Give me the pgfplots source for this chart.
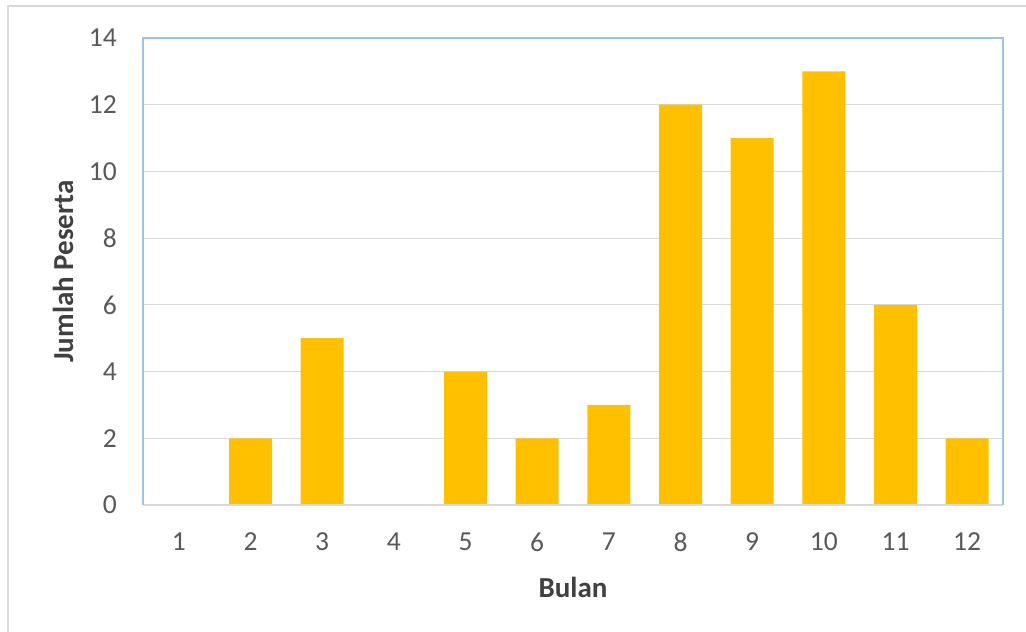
\documentclass[border=0pt]{standalone}
\usepackage{pgfplots}
\pgfplotsset{compat=1.18}
\usepackage{fontspec}
\setmainfont{Carlito}
\definecolor{barcol}{HTML}{FFC000}
\definecolor{gridcol}{HTML}{D9D9D9}
\definecolor{framecol}{HTML}{9DC3E6}
\definecolor{tickcol}{HTML}{595959}
\definecolor{labcol}{HTML}{404040}
\begin{document}
\begin{tikzpicture}
\path[use as bounding box] (0,0) rectangle (1026bp,632bp);
\draw[gridcol, line width=2bp] (8bp,0) -- (8bp,626bp) -- (1026bp,626bp);
\begin{axis}[
  at={(143bp,127bp)}, anchor=south west,
  scale only axis, width=860bp, height=467bp,
  xmin=0.5, xmax=12.5, ymin=0, ymax=14,
  xtick={1,...,12}, ytick={0,2,...,14},
  major tick length=0pt,
  axis line style={draw=none},
  ymajorgrids, grid style={gridcol, line width=1.2bp},
  /pgf/number format/assume math mode=true,
  tick label style={font=\fontsize{27.5bp}{32bp}\selectfont, text=tickcol, inner sep=0pt},
  xticklabel style={anchor=center, yshift=-37bp},
  yticklabel style={anchor=east, xshift=-26bp},
  every axis x label/.style={at={(rel axis cs:0.5,0)}, anchor=center, yshift=-82bp},
  every axis y label/.style={at={(rel axis cs:0,0.5)}, anchor=center, rotate=90, yshift=80bp},
  label style={font=\fontsize{29bp}{34bp}\selectfont\bfseries, text=labcol},
  xlabel={Bulan}, ylabel={Jumlah Peserta},
  clip=false,
]
\addplot[ybar, bar width=43bp, fill=barcol, draw=none] coordinates {
 (1,0) (2,2) (3,5) (4,0) (5,4) (6,2) (7,3) (8,12) (9,11) (10,13) (11,6) (12,2)
};
\draw[gridcol, line width=1.5bp] (rel axis cs:0,0) -- (rel axis cs:1,0);
\draw[framecol, line width=1.5bp] (rel axis cs:0,0) -- (rel axis cs:0,1) -- (rel axis cs:1,1) -- (rel axis cs:1,0);
\end{axis}
\end{tikzpicture}
\end{document}
